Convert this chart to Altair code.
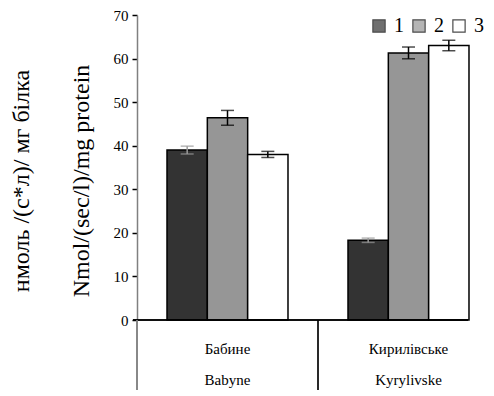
import altair as alt
import pandas as pd

sites_ua = ["Бабине", "Кирилівське"]
sites_en = ["Babyne", "Kyrylivske"]
series = ["1", "2", "3"]
values = {
    "1": [39.0, 18.3],
    "2": [46.4, 61.3],
    "3": [38.0, 63.0],
}
errors = {
    "1": [0.9, 0.5],
    "2": [1.7, 1.35],
    "3": [0.7, 1.2],
}
bar_colors = ["#333333", "#969696", "#ffffff"]
err_colors = {"1": "#999999", "2": "#000000", "3": "#000000"}
y_ticks = [0, 10, 20, 30, 40, 50, 60, 70]
title_ua = "нмоль /(с*л)/ мг білка"
title_en = "Nmol/(sec/l)/mg protein"

rows = []
for s in series:
    for i, site in enumerate(sites_en):
        v = values[s][i]
        e = errors[s][i]
        rows.append({"site": site, "series": s, "v": v, "lo": v - e, "hi": v + e,
                     "ec": err_colors[s]})
df = pd.DataFrame(rows)
labels = pd.DataFrame({"site": sites_en, "ua": sites_ua, "en": sites_en})

FONT = "'Liberation Serif', 'Times New Roman', serif"
W, H = 331, 305

xs = alt.X("site:N", sort=sites_en, axis=None,
           scale=alt.Scale(range=[0, 362], paddingInner=0, paddingOuter=0))
xo = alt.XOffset("series:N", sort=series,
                 scale=alt.Scale(paddingInner=0, paddingOuter=0.744))
yscale = alt.Scale(domain=[0, 70], nice=False)

bars = alt.Chart(df).mark_bar(stroke="#000000", strokeWidth=1.5).encode(
    x=xs, xOffset=xo,
    y=alt.Y("v:Q", scale=yscale, title=None,
            axis=alt.Axis(values=y_ticks, grid=False, domainColor="#808080",
                          domainWidth=1.5, tickColor="#000000", tickSize=5,
                          tickWidth=1.5, labelFont=FONT, labelFontSize=15,
                          labelColor="#000000", labelPadding=4)),
    color=alt.Color("series:N", sort=series,
                    scale=alt.Scale(domain=series, range=bar_colors),
                    legend=alt.Legend(title=None, orient="none", legendX=232,
                                      legendY=1, direction="horizontal",
                                      symbolType="square", symbolSize=150,
                                      symbolStrokeColor="#000000",
                                      symbolStrokeWidth=1.2, symbolOpacity=1,
                                      labelFont=FONT, labelFontSize=20,
                                      labelColor="#000000", labelOffset=5,
                                      columnPadding=5)),
)

err_rule = alt.Chart(df).mark_rule(strokeWidth=1.5).encode(
    x=xs, xOffset=xo, y=alt.Y("lo:Q", scale=yscale), y2="hi:Q",
    color=alt.Color("ec:N", scale=None),
)
err_lo = alt.Chart(df).mark_tick(size=13, thickness=1.5).encode(
    x=xs, xOffset=xo, y=alt.Y("lo:Q", scale=yscale),
    color=alt.Color("ec:N", scale=None),
)
err_hi = alt.Chart(df).mark_tick(size=13, thickness=1.5).encode(
    x=xs, xOffset=xo, y=alt.Y("hi:Q", scale=yscale),
    color=alt.Color("ec:N", scale=None),
)

base_rule = alt.Chart(labels).mark_rule(color="#000000", strokeWidth=1.5).encode(
    x=alt.value(-4), x2=alt.value(W), y=alt.value(H))
left_ext = alt.Chart(labels).mark_rule(color="#808080", strokeWidth=1.5).encode(
    x=alt.value(0), y=alt.value(H), y2=alt.value(H + 78))
divider = alt.Chart(labels).mark_rule(color="#000000", strokeWidth=1.2).encode(
    x=alt.value(181), y=alt.value(H), y2=alt.value(H + 78))

lab_ua = alt.Chart(labels).mark_text(font=FONT, fontSize=15, color="#000000",
                                     baseline="middle").encode(
    x=xs, y=alt.value(H + 29), text="ua:N")
lab_en = alt.Chart(labels).mark_text(font=FONT, fontSize=15, color="#000000",
                                     baseline="middle").encode(
    x=xs, y=alt.value(H + 60), text="en:N")

titles = pd.DataFrame({"t": [title_ua, title_en], "k": ["a", "b"]})
t1 = alt.Chart(titles[titles.k == "a"]).mark_text(
    font=FONT, fontSize=24, angle=270, color="#000000", baseline="middle").encode(
    x=alt.value(-115), y=alt.value(166), text="t:N")
t2 = alt.Chart(titles[titles.k == "b"]).mark_text(
    font=FONT, fontSize=24, angle=270, color="#000000", baseline="middle").encode(
    x=alt.value(-55), y=alt.value(166), text="t:N")

chart = alt.layer(bars, err_rule, err_lo, err_hi, base_rule, left_ext, divider,
                  lab_ua, lab_en, t1, t2).properties(
    width=W, height=H,
    autosize=alt.AutoSizeParams(type="none"),
    padding={"left": 129, "top": 7, "right": 18, "bottom": 70},
).configure_view(stroke=None)

chart.save("out.html", embed_options={"renderer": "svg", "actions": False})
